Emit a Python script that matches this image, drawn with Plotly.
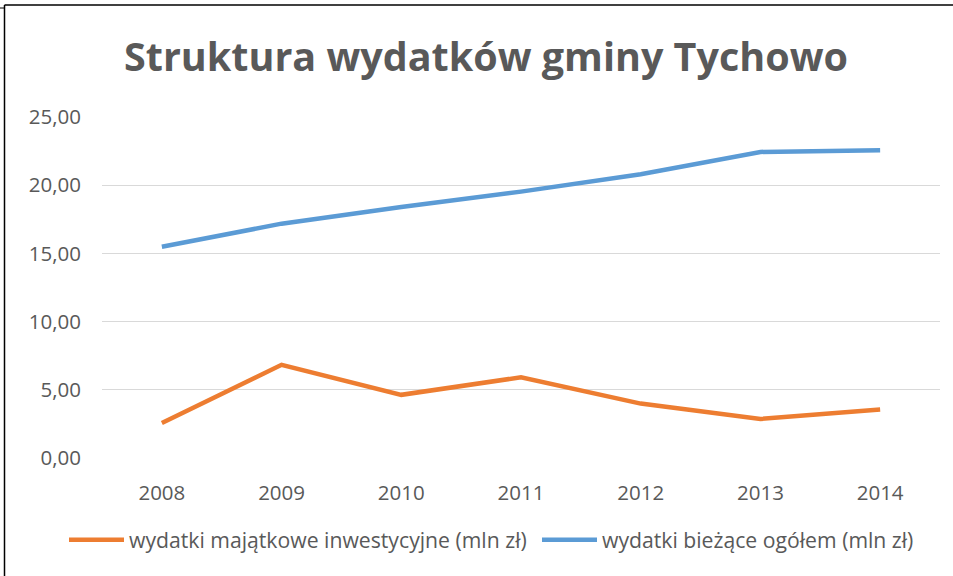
import plotly.graph_objects as go

years = ["2008", "2009", "2010", "2011", "2012", "2013", "2014"]
majatkowe = [2.57, 6.83, 4.63, 5.92, 3.99, 2.86, 3.55]
biezace = [15.49, 17.18, 18.40, 19.53, 20.80, 22.44, 22.56]
name_maj = "wydatki majątkowe inwestycyjne (mln zł)"
name_biez = "wydatki bieżące ogółem (mln zł)"
title_text = "Struktura wydatków gminy Tychowo"
y_ticks = [0, 5, 10, 15, 20, 25]

W, H = 953, 576
L, R, T, B = 102, 13, 117, 118
pw, ph = W - L - R, H - T - B

fig = go.Figure()
fig.add_trace(go.Scatter(x=years, y=majatkowe, name=name_maj, mode="lines",
                         line=dict(color="#ED7D31", width=4.5), legend="legend"))
fig.add_trace(go.Scatter(x=years, y=biezace, name=name_biez, mode="lines",
                         line=dict(color="#5B9BD5", width=4.5), legend="legend2"))

def px(x):
    return (x - L) / pw

def py(y):
    return (H - B - y) / ph

shapes = [
    dict(type="line", xref="paper", yref="paper", x0=px(4.5), x1=px(953), y0=py(5), y1=py(5),
         line=dict(color="black", width=1.5)),
    dict(type="line", xref="paper", yref="paper", x0=px(4.5), x1=px(4.5), y0=py(5), y1=py(576),
         line=dict(color="black", width=1.5)),
    dict(type="line", xref="paper", yref="paper", x0=px(0), x1=px(4.5), y0=py(8), y1=py(8),
         line=dict(color="black", width=1)),
]

legend_common = dict(orientation="h", y=py(540), yanchor="middle", xanchor="left",
                     font=dict(size=21.2, color="#595959"), itemwidth=55,
                     bgcolor="rgba(0,0,0,0)")

fig.update_layout(
    width=W, height=H,
    margin=dict(l=L, r=R, t=T, b=B, autoexpand=False),
    paper_bgcolor="white", plot_bgcolor="white",
    separators=",.",
    font=dict(family="Open Sans", color="#595959"),
    title=dict(text="<b>" + title_text + "</b>", x=486 / W, xanchor="center",
               y=1 - 57 / H, yanchor="middle", yref="container",
               font=dict(family="Open Sans", size=39.5, color="#595959")),
    xaxis=dict(type="category", range=[-0.5, 6.5], showgrid=False, showline=False,
               ticks="", zeroline=False,
               tickfont=dict(size=20.5, color="#595959"), ticklabelstandoff=20),
    yaxis=dict(range=[0, 25], tickvals=y_ticks, tickformat=".2f", showgrid=True,
               gridcolor="#D9D9D9", gridwidth=1.3, zeroline=False, showline=False,
               tickfont=dict(size=20.5, color="#595959"), ticklabelstandoff=20),
    legend=dict(x=px(64), **legend_common),
    legend2=dict(x=px(537), **legend_common),
    shapes=shapes,
    showlegend=True,
)

fig.write_html("out.html", config={"displayModeBar": False},
               post_script="document.body.style.margin='0px';")
